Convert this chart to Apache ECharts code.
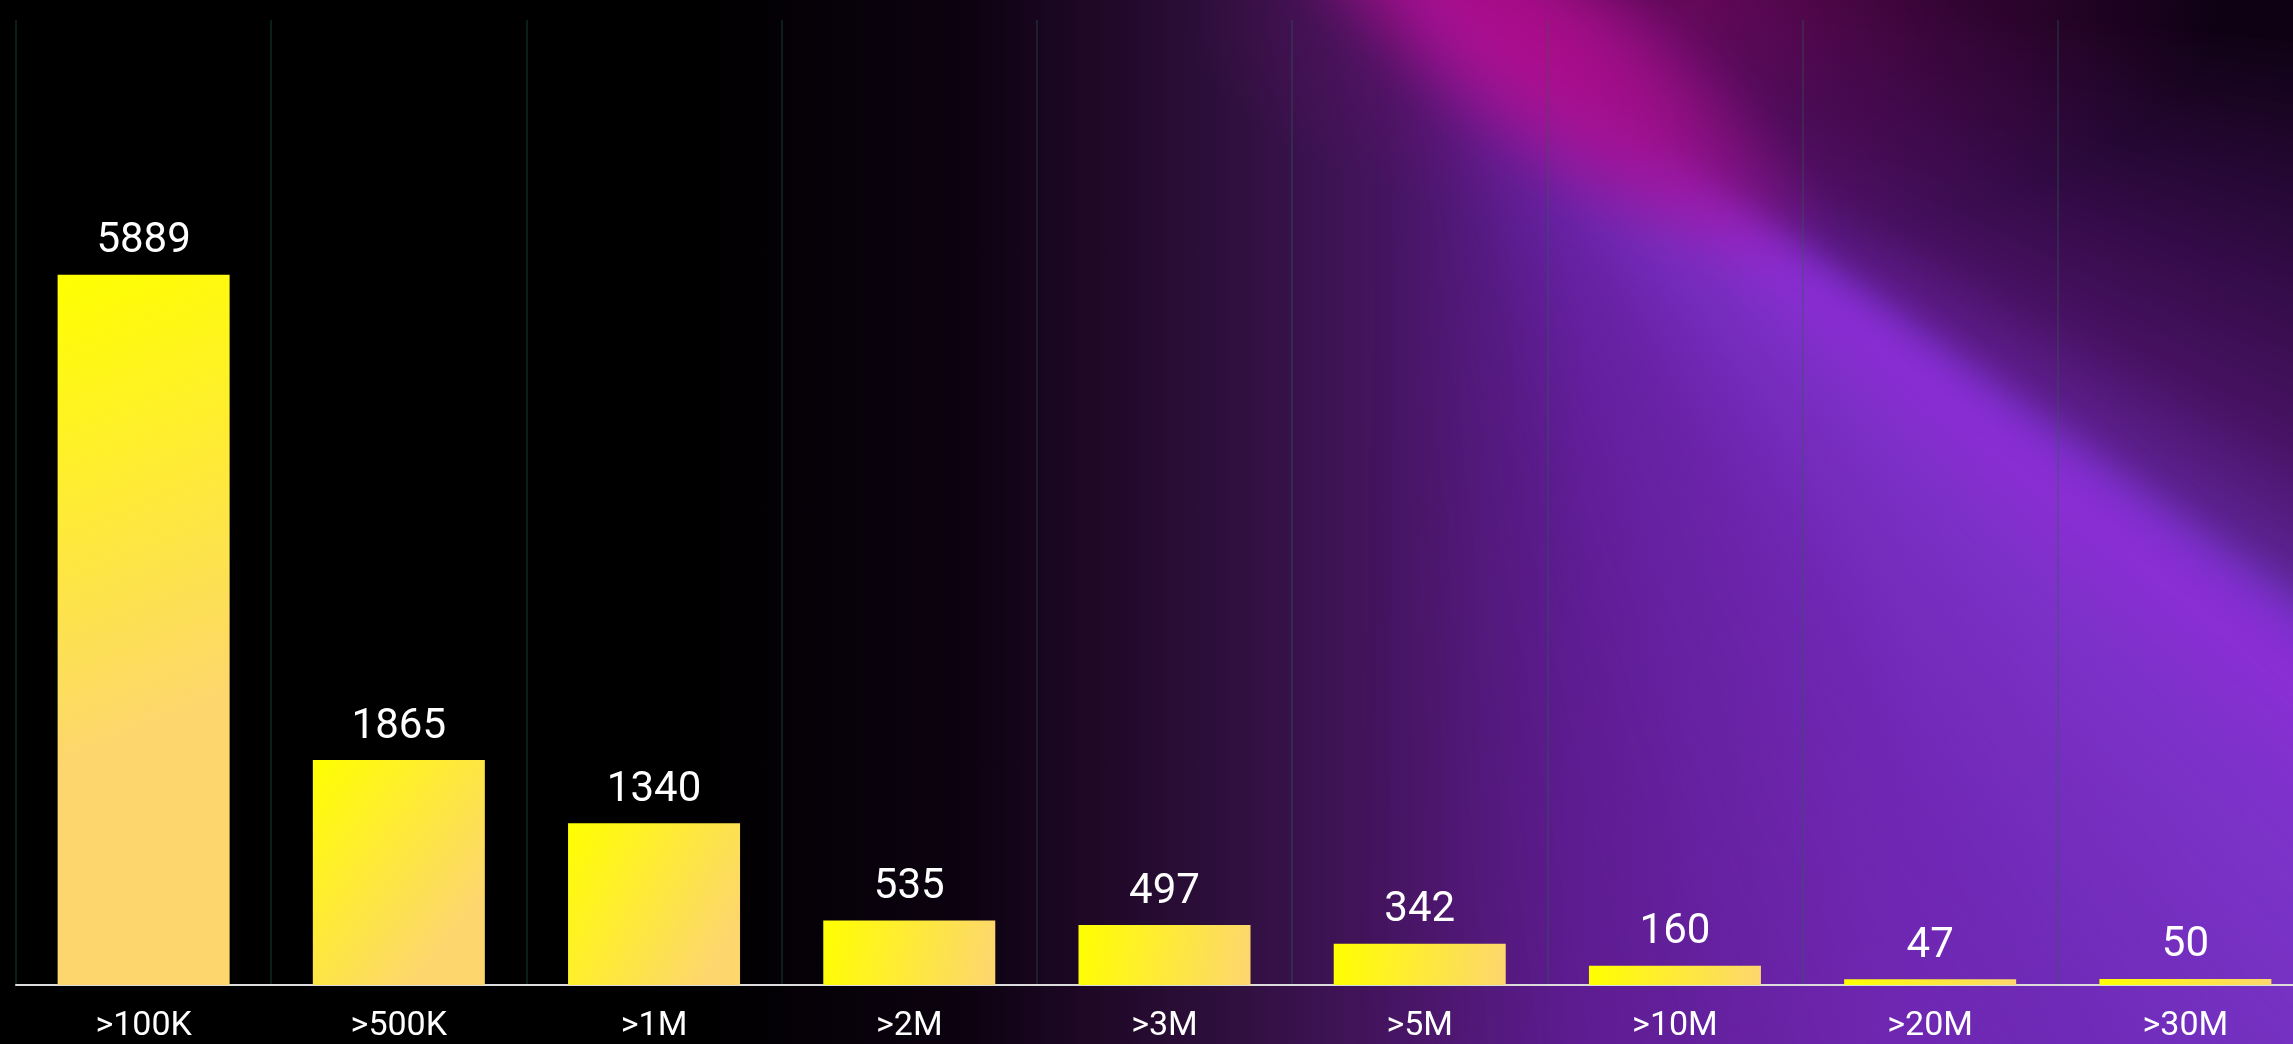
<!DOCTYPE html>
<html>
<head>
<meta charset="utf-8">
<script src="https://cdn.jsdelivr.net/npm/echarts@6/dist/echarts.min.js"></script>
<style>
  html, body { margin: 0; padding: 0; width: 2293px; height: 1044px; overflow: hidden; background: #000; }
  #wrap { position: relative; width: 2293px; height: 1044px; overflow: hidden; }
  .layer { position: absolute; left: 0; top: 0; width: 2293px; height: 1044px; }
  .big { position: absolute; left: -100px; top: -100px; width: 2493px; height: 1244px; }
  #base {
    background: linear-gradient(90deg, #000 0%, #000 30%, #0c0210 42%, #1a0620 46%, #30103f 54%, #4a1668 62%, #5e1c90 69%, #7028b0 83%, #6a36b8 100%);
  }
  #dark {
    background: conic-gradient(from 0deg at 1500px 60px,
      rgba(12,0,14,0.97) 0deg, rgba(12,0,14,0.97) 95deg,
      rgba(40,6,52,0.9) 108deg, rgba(64,12,82,0.85) 118deg,
      rgba(80,18,110,0.55) 124deg, rgba(90,20,130,0) 127deg,
      rgba(0,0,0,0) 360deg);
    filter: blur(10px);
  }
  #beam {
    background: conic-gradient(from 0deg at 1500px 60px,
      rgba(0,0,0,0) 0deg, rgba(0,0,0,0) 125deg,
      rgba(130,44,210,0.75) 126.5deg, rgba(142,46,215,0.92) 128.5deg,
      rgba(128,50,205,0.78) 135deg, rgba(112,40,185,0.5) 148deg,
      rgba(96,32,160,0.2) 165deg, rgba(80,25,140,0) 182deg,
      rgba(0,0,0,0) 360deg);
    filter: blur(14px);
  }
  #glow {
    background: radial-gradient(ellipse 520px 240px at 1700px 0px, rgba(150,12,130,0.6) 0%, rgba(130,12,120,0.3) 50%, rgba(120,12,120,0) 100%);
  }
  #stripe {
    position: absolute; left: 1140px; top: -90px; width: 760px; height: 240px;
    transform-origin: 50% 50%; transform: rotate(38deg);
    background: radial-gradient(closest-side, rgba(178,12,140,0.97) 0%, rgba(168,14,140,0.8) 45%, rgba(150,16,140,0) 100%);
    filter: blur(18px);
  }
  #chart { position: absolute; left: 0; top: 0; width: 2320px; height: 1044px; }
</style>
</head>
<body>
<div id="wrap">
  <div class="layer" id="base"></div>
  <div class="big" id="dark"></div>
  <div class="big" id="beam"></div>
  <div class="layer" id="glow"></div>
  <div id="stripe"></div>
  <div id="chart"></div>
</div>
<script>
const categories = ['>100K', '>500K', '>1M', '>2M', '>3M', '>5M', '>10M', '>20M', '>30M'];
const values = [5889, 1865, 1340, 535, 497, 342, 160, 47, 50];
const yMax = 8000;

const chart = echarts.init(document.getElementById('chart'), null, { renderer: 'canvas' });
chart.setOption({
  backgroundColor: 'transparent',
  animation: false,
  grid: { left: 16, top: 20, right: 7, bottom: 59, containLabel: false },
  xAxis: {
    type: 'category',
    data: categories,
    axisLine: { show: true, lineStyle: { color: '#dcdcdc', width: 2 } },
    axisTick: { show: false },
    axisLabel: { interval: 0, color: '#ffffff', fontSize: 34, margin: 24, fontFamily: 'Roboto', fontWeight: 'normal' },
    splitLine: { show: true, interval: 0, lineStyle: { color: 'rgba(40,100,80,0.3)', width: 2 } }
  },
  yAxis: { type: 'value', min: 0, max: yMax, show: false },
  series: [{
    type: 'bar',
    data: values,
    barWidth: 172,
    itemStyle: {
      color: new echarts.graphic.LinearGradient(0, 0, 1, 0.6, [
        { offset: 0, color: '#ffff00' },
        { offset: 1, color: '#fdd66e' }
      ])
    },
    label: { show: true, position: 'top', distance: 12, color: '#ffffff', fontSize: 42, fontFamily: 'Roboto', fontWeight: 'normal' }
  }]
});
</script>
</body>
</html>
